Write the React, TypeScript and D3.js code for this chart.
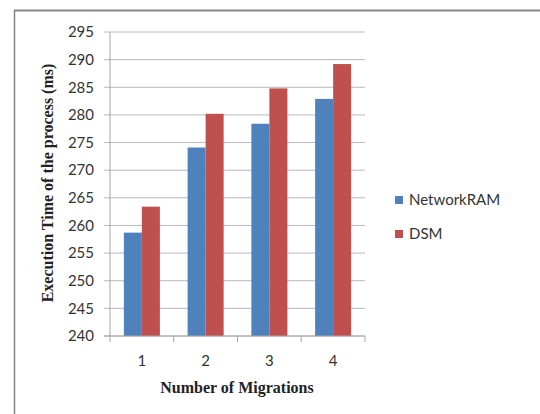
import React from 'react';
import * as d3 from 'd3';

const categories = ['1', '2', '3', '4'];
const seriesNames = ['NetworkRAM', 'DSM'];
const networkRAM = [258.7, 274.1, 278.4, 282.9];
const dsm = [263.4, 280.2, 284.8, 289.2];
const yTicks = [240, 245, 250, 255, 260, 265, 270, 275, 280, 285, 290, 295];
const colors = ['#4F81BD', '#C0504D'];

const W = 540;
const H = 414;
const plot = { left: 110, right: 365, top: 32, bottom: 336 };

const App = () => {
	const x0 = d3.scaleBand().domain(categories).range([plot.left, plot.right]).padding(0);
	const x1 = d3.scaleBand().domain(seriesNames).range([0, x0.bandwidth()]).paddingInner(0).paddingOuter(0.77);
	const y = d3.scaleLinear().domain([240, 295]).range([plot.bottom, plot.top]);
	const values = [networkRAM, dsm];
	const tickFont = 'Lato, "Open Sans", sans-serif';
	const boundaries = [...categories.map((c) => x0(c) as number), plot.right];

	return (
		<svg width={W} height={H} style={{ position: 'absolute', left: 0, top: 0, background: '#fff' }}>
			{/* outer frame: only top and left edges show */}
			<line x1={14} x2={W} y1={10.5} y2={10.5} stroke="#858585" strokeWidth={2} />
			<line x1={14.5} x2={14.5} y1={10} y2={H} stroke="#858585" strokeWidth={1.5} />

			{yTicks.map((t) => (
				<g key={t}>
					<line x1={plot.left - 6} x2={plot.right} y1={y(t)} y2={y(t)} stroke="#b8b8b8" strokeWidth={1} />
					<text x={94} y={y(t)} dy="0.35em" textAnchor="end" fontFamily={tickFont} fontSize={15} fill="#333">
						{t}
					</text>
				</g>
			))}

			{categories.map((c, i) =>
				seriesNames.map((s, j) => (
					<rect
						key={c + s}
						x={(x0(c) as number) + (x1(s) as number)}
						y={y(values[j][i])}
						width={x1.bandwidth()}
						height={y(240) - y(values[j][i])}
						fill={colors[j]}
					/>
				))
			)}

			<line x1={plot.left} x2={plot.left} y1={plot.top} y2={plot.bottom} stroke="#a6a6a6" strokeWidth={1} />
			<line x1={plot.left - 6} x2={plot.right} y1={plot.bottom} y2={plot.bottom} stroke="#a6a6a6" strokeWidth={1} />
			{boundaries.map((b, i) => (
				<line key={i} x1={b} x2={b} y1={plot.bottom} y2={plot.bottom + 6} stroke="#a6a6a6" strokeWidth={1} />
			))}

			{categories.map((c) => (
				<text
					key={c}
					x={(x0(c) as number) + x0.bandwidth() / 2}
					y={366}
					textAnchor="middle"
					fontFamily={tickFont}
					fontSize={15}
					fill="#333"
				>
					{c}
				</text>
			))}

			<text
				x={237}
				y={393}
				textAnchor="middle"
				fontFamily='"Liberation Serif", "Times New Roman", serif'
				fontWeight="bold"
				fontSize={16}
				fill="#222"
			>
				Number of Migrations
			</text>
			<text
				transform={`translate(53, 183) rotate(-90)`}
				textAnchor="middle"
				fontFamily='"Liberation Serif", "Times New Roman", serif'
				fontWeight="bold"
				fontSize={16}
				fill="#222"
			>
				Execution Time of the process (ms)
			</text>

			{seriesNames.map((s, j) => (
				<g key={s} transform={`translate(395, ${200 + j * 34})`}>
					<rect x={0} y={-4} width={8} height={8} fill={colors[j]} />
					<text x={14} y={0} dy="0.35em" fontFamily={tickFont} fontSize={15} fill="#333">
						{s}
					</text>
				</g>
			))}
		</svg>
	);
};

export default App;
